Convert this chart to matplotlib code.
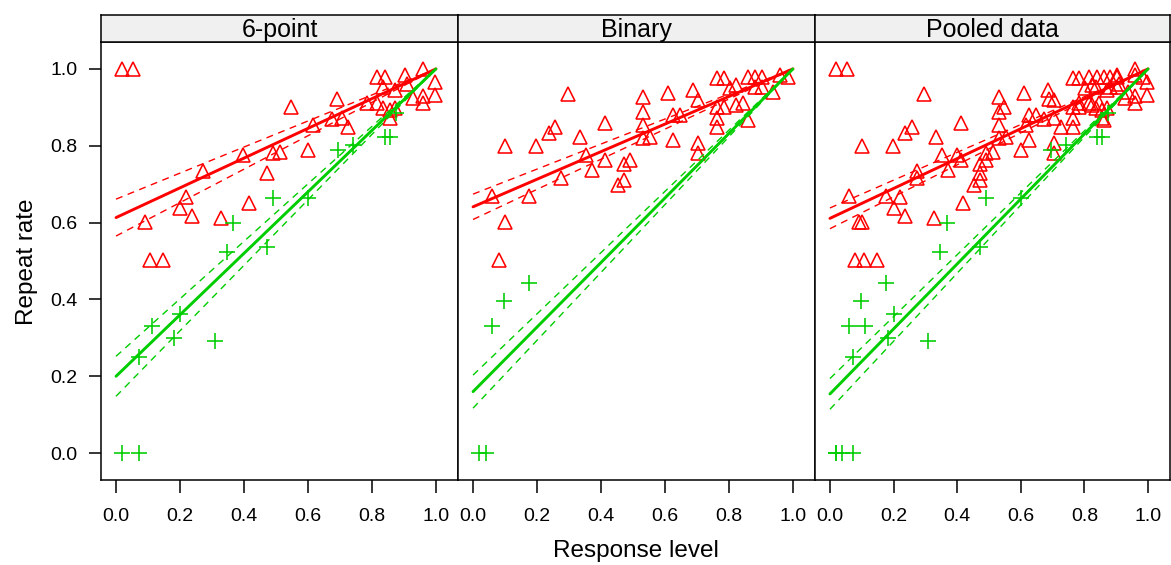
import numpy as np
import matplotlib
matplotlib.use("Agg")
import matplotlib.pyplot as plt

plt.rcParams['font.family'] = ['Liberation Sans', 'DejaVu Sans']

# ---------------- data ----------------
panels = ["6-point", "Binary", "Pooled data"]
x_ticks = [0.0, 0.2, 0.4, 0.6, 0.8, 1.0]
y_ticks = [0.0, 0.2, 0.4, 0.6, 0.8, 1.0]

# 6-point scale: red triangles
six_red_x = [0.018, 0.054, 0.091, 0.106, 0.148, 0.200, 0.219, 0.236, 0.273, 0.327,
             0.398, 0.417, 0.473, 0.492, 0.512, 0.546, 0.601, 0.617, 0.674, 0.690,
             0.705, 0.726, 0.783, 0.815, 0.815, 0.835, 0.841, 0.835, 0.856, 0.856,
             0.872, 0.872, 0.903, 0.910, 0.929, 0.960, 0.960, 0.960, 0.997, 0.997]
six_red_y = [1.000, 1.000, 0.602, 0.503, 0.503, 0.637, 0.667, 0.617, 0.733, 0.611,
             0.776, 0.652, 0.730, 0.780, 0.785, 0.902, 0.789, 0.854, 0.869, 0.921,
             0.871, 0.848, 0.910, 0.910, 0.980, 0.954, 0.980, 0.897, 0.893, 0.872,
             0.945, 0.897, 0.984, 0.960, 0.923, 1.000, 0.910, 0.930, 0.967, 0.932]
# 6-point scale: green crosses
six_grn_x = [0.018, 0.073, 0.073, 0.111, 0.181, 0.200, 0.309, 0.346, 0.367, 0.471,
             0.492, 0.601, 0.695, 0.742, 0.841, 0.856, 0.875]
six_grn_y = [0.000, 0.000, 0.251, 0.331, 0.299, 0.362, 0.292, 0.524, 0.600, 0.537,
             0.663, 0.663, 0.789, 0.802, 0.824, 0.824, 0.885]

# Binary scale: red triangles
bin_red_x = [0.059, 0.080, 0.101, 0.101, 0.176, 0.197, 0.236, 0.257, 0.275, 0.296,
             0.334, 0.353, 0.372, 0.413, 0.413, 0.452, 0.473, 0.473, 0.491, 0.530,
             0.530, 0.530, 0.530, 0.553, 0.610, 0.626, 0.626, 0.647, 0.687, 0.704,
             0.704, 0.704, 0.763, 0.784, 0.763, 0.784, 0.763, 0.763, 0.803, 0.823,
             0.823, 0.845, 0.860, 0.860, 0.881, 0.902, 0.881, 0.902, 0.938, 0.959,
             0.985]
bin_red_y = [0.669, 0.503, 0.602, 0.800, 0.669, 0.800, 0.832, 0.848, 0.715, 0.935,
             0.824, 0.776, 0.737, 0.858, 0.763, 0.698, 0.711, 0.753, 0.763, 0.928,
             0.889, 0.854, 0.820, 0.824, 0.937, 0.815, 0.880, 0.880, 0.945, 0.919,
             0.806, 0.780, 0.976, 0.976, 0.902, 0.902, 0.872, 0.848, 0.950, 0.958,
             0.906, 0.910, 0.867, 0.980, 0.980, 0.980, 0.953, 0.953, 0.941, 0.984,
             0.980]
# Binary scale: green crosses
bin_grn_x = [0.020, 0.039, 0.059, 0.098, 0.176]
bin_grn_y = [0.000, 0.000, 0.331, 0.397, 0.443]

# fitted lines (through (1,1)): intercept at 0 and band half-width at 0
red_fit_icpt = [0.613, 0.641, 0.611]
red_fit_band = [0.048, 0.033, 0.027]
grn_fit_icpt = [0.200, 0.160, 0.154]
grn_fit_band = [0.052, 0.043, 0.040]

red_pts = [(six_red_x, six_red_y), (bin_red_x, bin_red_y),
           (six_red_x + bin_red_x, six_red_y + bin_red_y)]
grn_pts = [(six_grn_x, six_grn_y), (bin_grn_x, bin_grn_y),
           (six_grn_x + bin_grn_x, six_grn_y + bin_grn_y)]

RED = '#FF0000'
GRN = '#00CD00'

# ---------------- layout ----------------
W, H = 1171, 565
fig = plt.figure(figsize=(W / 100, H / 100), dpi=100)


def box(l, t, r, b):
    return [l / W, 1 - b / H, (r - l) / W, (b - t) / H]


lefts = [101, 458, 815]
rights = [458, 815, 1170]
xs = np.array([0.0, 1.0])

for i in range(3):
    ax = fig.add_axes(box(lefts[i], 42, rights[i], 480))
    ax.set_xlim(-0.047, 1.069)
    ax.set_ylim(-0.07, 1.07)
    for s in ax.spines.values():
        s.set_linewidth(1.1)

    # points
    rx, ry = red_pts[i]
    gx, gy = grn_pts[i]
    ax.plot(rx, ry, linestyle='none', marker='^', markersize=9.5,
            markerfacecolor='none', markeredgecolor=RED, markeredgewidth=1.15)
    ax.plot(gx, gy, linestyle='none', marker='+', markersize=11.5,
            markeredgecolor=GRN, markeredgewidth=1.15)

    # fitted lines and bands
    for icpt, band, col in [(red_fit_icpt[i], red_fit_band[i], RED),
                            (grn_fit_icpt[i], grn_fit_band[i], GRN)]:
        fit = icpt + (1 - icpt) * xs
        ax.plot(xs, fit, color=col, lw=2.1, solid_capstyle='round')
        ax.plot(xs, fit + band * (1 - xs), color=col, lw=1.0, dashes=(5, 4))
        ax.plot(xs, fit - band * (1 - xs), color=col, lw=1.0, dashes=(5, 4))

    ax.set_xticks(x_ticks)
    ax.set_xticklabels([f"{v:.1f}" for v in x_ticks])
    ax.tick_params(axis='x', direction='out', length=9, width=1.1,
                   labelsize=14, pad=11)
    if i == 0:
        ax.set_yticks(y_ticks)
        ax.set_yticklabels([f"{v:.1f}" for v in y_ticks])
        ax.tick_params(axis='y', direction='out', length=9, width=1.1,
                       labelsize=14, pad=8)
    else:
        ax.set_yticks([])

    # strip
    st = fig.add_axes(box(lefts[i], 15, rights[i], 42))
    st.set_facecolor('#F0F0F0')
    st.set_xticks([])
    st.set_yticks([])
    for s in st.spines.values():
        s.set_linewidth(1.1)
    st.text(0.5, 0.45, panels[i], ha='center', va='center', fontsize=18,
            transform=st.transAxes)

fig.text(27 / W, 1 - 262 / H, "Repeat rate", rotation=90, ha='center',
         va='center', fontsize=17.5)
fig.text(636 / W, 1 - 551 / H, "Response level", ha='center', va='center',
         fontsize=17.5)

fig.savefig("out.png", dpi=100)
